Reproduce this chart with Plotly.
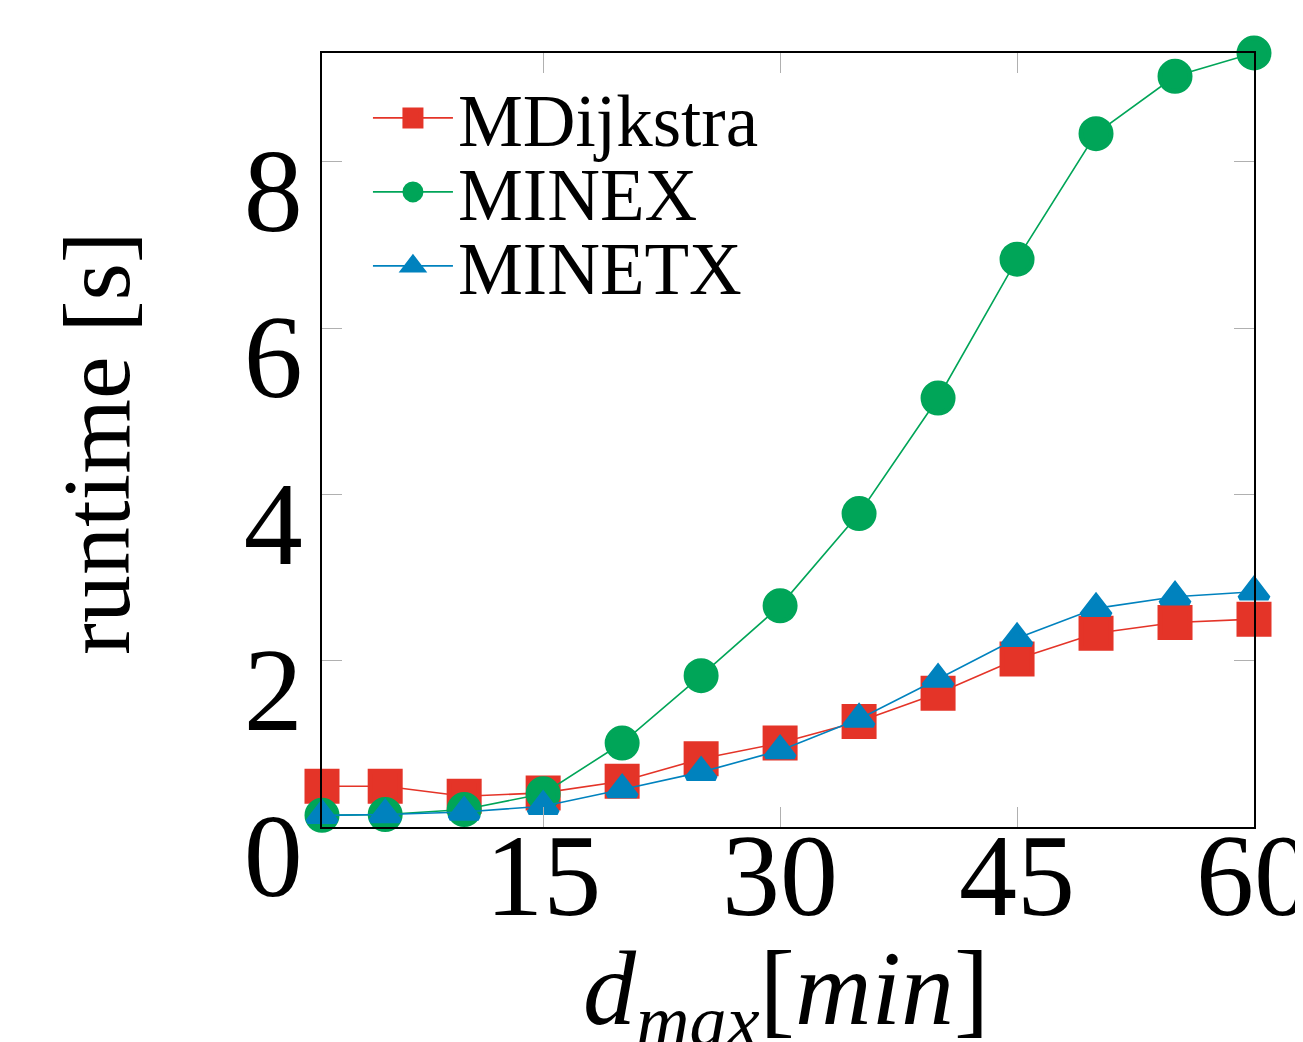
import plotly.graph_objects as go

# Data
d_max = [1, 5, 10, 15, 20, 25, 30, 35, 40, 45, 50, 55, 60]
mdijkstra = [0.49, 0.49, 0.37, 0.41, 0.55, 0.82, 1.01, 1.27, 1.61, 2.02, 2.33, 2.46, 2.50]
minex = [0.14, 0.15, 0.21, 0.40, 1.01, 1.82, 2.66, 3.77, 5.16, 6.83, 8.34, 9.03, 9.31]
minetx = [0.14, 0.15, 0.18, 0.25, 0.45, 0.66, 0.92, 1.30, 1.78, 2.27, 2.63, 2.77, 2.83]

x_ticks = [15, 30, 45, 60]
x_ticktext = ["15", "30", "45", "60"]
y_ticks = [0, 2, 4, 6, 8]
y_ticktext = ["0", "2", "4", "6", "8"]

RED = "rgb(228,52,40)"
GREEN = "rgb(0,165,88)"
BLUE = "rgb(0,130,190)"
FONT = "Liberation Serif"

fig = go.Figure()
fig.add_trace(go.Scatter(x=d_max, y=mdijkstra, name="MDijkstra", mode="lines+markers",
                         legend="legend", cliponaxis=False,
                         line=dict(color=RED, width=1.6),
                         marker=dict(symbol="square", size=30, color=RED,
                                     line=dict(color=RED, width=5))))
fig.add_trace(go.Scatter(x=d_max, y=minex, name="MINEX", mode="lines+markers",
                         legend="legend2", cliponaxis=False,
                         line=dict(color=GREEN, width=1.6),
                         marker=dict(symbol="circle", size=30, color=GREEN,
                                     line=dict(color=GREEN, width=5))))
fig.add_trace(go.Scatter(x=d_max, y=minetx, name="MINETX", mode="lines+markers",
                         legend="legend3", cliponaxis=False,
                         line=dict(color=BLUE, width=1.6),
                         marker=dict(symbol="triangle-up", size=25, color=BLUE,
                                     line=dict(color=BLUE, width=5))))

leg_common = dict(x=0.0493, xanchor="left", yanchor="middle",
                  font=dict(family=FONT, size=73, color="black"),
                  bgcolor="rgba(255,255,255,0)", borderwidth=0, itemwidth=80)

fig.update_layout(
    width=1295, height=1034,
    margin=dict(l=314, r=49, t=45, b=215, autoexpand=False),
    plot_bgcolor="white", paper_bgcolor="white",
    font=dict(family=FONT, color="black"),
    showlegend=True,
    legend=dict(y=0.9161, **leg_common),
    legend2=dict(y=0.8205, **leg_common),
    legend3=dict(y=0.7249, **leg_common),
)
fig.update_xaxes(range=[1, 60], tickvals=x_ticks, ticktext=x_ticktext,
                 ticks="inside", ticklen=20, tickcolor="#b0b0b0", tickwidth=1,
                 showline=True, linecolor="black", linewidth=1.5, mirror="ticks",
                 showgrid=False, zeroline=False, automargin=False,
                 ticklabeloverflow="allow", ticklabelstandoff=-53,
                 tickfont=dict(family=FONT, size=116, color="black"))
fig.update_yaxes(range=[0, 9.31], tickvals=y_ticks, ticktext=y_ticktext,
                 ticks="inside", ticklen=20, tickcolor="#b0b0b0", tickwidth=1,
                 showline=True, linecolor="black", linewidth=1.5, mirror="ticks",
                 showgrid=False, zeroline=False, automargin=False,
                 ticklabeloverflow="allow", ticklabelshift=28, ticklabelstandoff=-6,
                 tickfont=dict(family=FONT, size=118, color="black"))

fig.add_annotation(text="runtime [s]", xref="paper", yref="paper",
                   x=-0.2425, y=0.496, xanchor="center", yanchor="middle",
                   textangle=-90, showarrow=False,
                   font=dict(family=FONT, size=96, color="black"))
fig.add_annotation(text="<i>d</i><sub><i>max</i></sub>[<i>min</i>]", xref="paper", yref="paper",
                   x=0.498, y=-0.131, xanchor="center", yanchor="top",
                   showarrow=False,
                   font=dict(family=FONT, size=106, color="black"))

fig.write_html("out.html")
